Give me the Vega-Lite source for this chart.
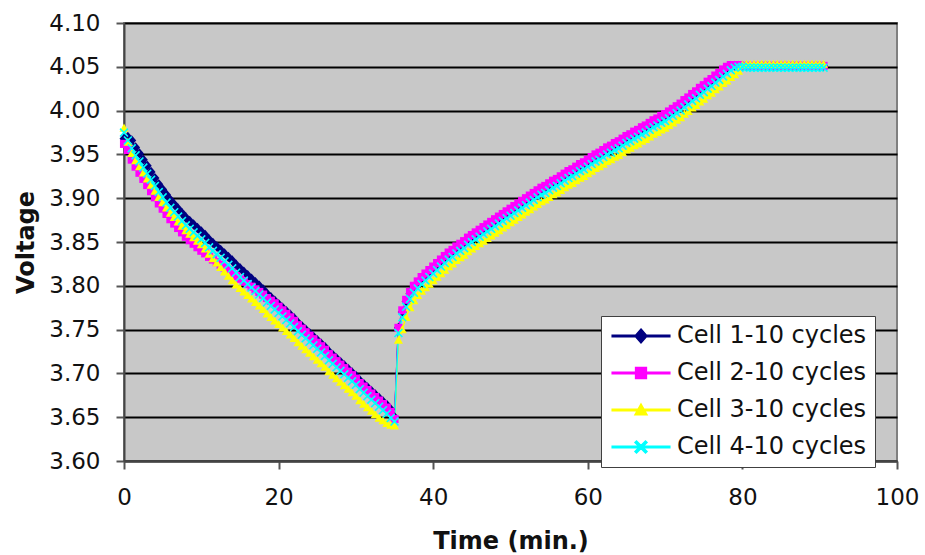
{
  "$schema": "https://vega.github.io/schema/vega-lite/v6.json",
  "width": 773,
  "height": 438,
  "autosize": "none",
  "padding": {"left": 124, "top": 23, "right": 28, "bottom": 94},
  "background": "white",
  "title": {"text": "Cycle 10", "fontSize": 36, "font": "DejaVu Sans", "fontWeight": "bold", "color": "black", "offset": 0, "baseline": "bottom", "anchor": "middle", "dx": -38},
  "config": {
    "view": {"fill": "#c8c8c8", "stroke": "#808080", "strokeWidth": 2},
    "axis": {"labelFont": "DejaVu Sans", "titleFont": "DejaVu Sans", "labelColor": "#111111", "titleColor": "#111111"}
  },
  "data": {"values": [
    {"t":0,"c1":3.968,"c2":3.962,"c3":3.980,"c4":3.975},
    {"t":0.5,"c1":3.970,"c2":3.955,"c3":3.964,"c4":3.966},
    {"t":1,"c1":3.966,"c2":3.944,"c3":3.951,"c4":3.957},
    {"t":1.5,"c1":3.958,"c2":3.936,"c3":3.943,"c4":3.949},
    {"t":2,"c1":3.951,"c2":3.929,"c3":3.936,"c4":3.942},
    {"t":2.5,"c1":3.944,"c2":3.922,"c3":3.929,"c4":3.935},
    {"t":3,"c1":3.937,"c2":3.915,"c3":3.922,"c4":3.928},
    {"t":3.5,"c1":3.930,"c2":3.908,"c3":3.915,"c4":3.921},
    {"t":4,"c1":3.923,"c2":3.901,"c3":3.908,"c4":3.914},
    {"t":4.5,"c1":3.916,"c2":3.894,"c3":3.901,"c4":3.907},
    {"t":5,"c1":3.910,"c2":3.888,"c3":3.895,"c4":3.901},
    {"t":5.5,"c1":3.904,"c2":3.882,"c3":3.889,"c4":3.895},
    {"t":6,"c1":3.898,"c2":3.876,"c3":3.883,"c4":3.889},
    {"t":6.5,"c1":3.893,"c2":3.871,"c3":3.878,"c4":3.884},
    {"t":7,"c1":3.888,"c2":3.866,"c3":3.873,"c4":3.879},
    {"t":7.5,"c1":3.883,"c2":3.861,"c3":3.868,"c4":3.874},
    {"t":8,"c1":3.878,"c2":3.856,"c3":3.863,"c4":3.869},
    {"t":8.5,"c1":3.874,"c2":3.852,"c3":3.859,"c4":3.865},
    {"t":9,"c1":3.870,"c2":3.848,"c3":3.855,"c4":3.861},
    {"t":9.5,"c1":3.866,"c2":3.844,"c3":3.851,"c4":3.857},
    {"t":10,"c1":3.862,"c2":3.840,"c3":3.847,"c4":3.853},
    {"t":10.5,"c1":3.858,"c2":3.837,"c3":3.842,"c4":3.849},
    {"t":11,"c1":3.853,"c2":3.833,"c3":3.836,"c4":3.844},
    {"t":11.5,"c1":3.849,"c2":3.830,"c3":3.831,"c4":3.840},
    {"t":12,"c1":3.845,"c2":3.827,"c3":3.826,"c4":3.836},
    {"t":12.5,"c1":3.841,"c2":3.824,"c3":3.821,"c4":3.832},
    {"t":13,"c1":3.837,"c2":3.821,"c3":3.816,"c4":3.828},
    {"t":13.5,"c1":3.833,"c2":3.818,"c3":3.811,"c4":3.824},
    {"t":14,"c1":3.829,"c2":3.815,"c3":3.806,"c4":3.820},
    {"t":14.5,"c1":3.824,"c2":3.811,"c3":3.801,"c4":3.815},
    {"t":15,"c1":3.820,"c2":3.808,"c3":3.797,"c4":3.810},
    {"t":15.5,"c1":3.816,"c2":3.805,"c3":3.793,"c4":3.806},
    {"t":16,"c1":3.812,"c2":3.802,"c3":3.789,"c4":3.802},
    {"t":16.5,"c1":3.808,"c2":3.799,"c3":3.785,"c4":3.798},
    {"t":17,"c1":3.804,"c2":3.796,"c3":3.781,"c4":3.794},
    {"t":17.5,"c1":3.800,"c2":3.793,"c3":3.777,"c4":3.790},
    {"t":18,"c1":3.796,"c2":3.790,"c3":3.773,"c4":3.786},
    {"t":18.5,"c1":3.791,"c2":3.786,"c3":3.768,"c4":3.781},
    {"t":19,"c1":3.787,"c2":3.783,"c3":3.764,"c4":3.777},
    {"t":19.5,"c1":3.783,"c2":3.780,"c3":3.760,"c4":3.773},
    {"t":20,"c1":3.779,"c2":3.776,"c3":3.756,"c4":3.769},
    {"t":20.5,"c1":3.775,"c2":3.772,"c3":3.752,"c4":3.765},
    {"t":21,"c1":3.771,"c2":3.768,"c3":3.748,"c4":3.761},
    {"t":21.5,"c1":3.767,"c2":3.764,"c3":3.744,"c4":3.757},
    {"t":22,"c1":3.763,"c2":3.760,"c3":3.740,"c4":3.753},
    {"t":22.5,"c1":3.758,"c2":3.755,"c3":3.735,"c4":3.748},
    {"t":23,"c1":3.754,"c2":3.751,"c3":3.731,"c4":3.744},
    {"t":23.5,"c1":3.750,"c2":3.747,"c3":3.727,"c4":3.740},
    {"t":24,"c1":3.746,"c2":3.743,"c3":3.723,"c4":3.736},
    {"t":24.5,"c1":3.742,"c2":3.739,"c3":3.719,"c4":3.732},
    {"t":25,"c1":3.738,"c2":3.735,"c3":3.715,"c4":3.728},
    {"t":25.5,"c1":3.734,"c2":3.731,"c3":3.711,"c4":3.724},
    {"t":26,"c1":3.730,"c2":3.727,"c3":3.707,"c4":3.720},
    {"t":26.5,"c1":3.725,"c2":3.722,"c3":3.702,"c4":3.715},
    {"t":27,"c1":3.721,"c2":3.718,"c3":3.698,"c4":3.711},
    {"t":27.5,"c1":3.717,"c2":3.714,"c3":3.694,"c4":3.707},
    {"t":28,"c1":3.713,"c2":3.710,"c3":3.690,"c4":3.703},
    {"t":28.5,"c1":3.709,"c2":3.706,"c3":3.686,"c4":3.699},
    {"t":29,"c1":3.705,"c2":3.702,"c3":3.682,"c4":3.695},
    {"t":29.5,"c1":3.701,"c2":3.698,"c3":3.678,"c4":3.691},
    {"t":30,"c1":3.697,"c2":3.694,"c3":3.674,"c4":3.687},
    {"t":30.5,"c1":3.692,"c2":3.689,"c3":3.669,"c4":3.682},
    {"t":31,"c1":3.688,"c2":3.685,"c3":3.665,"c4":3.678},
    {"t":31.5,"c1":3.684,"c2":3.681,"c3":3.661,"c4":3.674},
    {"t":32,"c1":3.680,"c2":3.677,"c3":3.657,"c4":3.670},
    {"t":32.5,"c1":3.676,"c2":3.673,"c3":3.653,"c4":3.666},
    {"t":33,"c1":3.672,"c2":3.669,"c3":3.649,"c4":3.662},
    {"t":33.5,"c1":3.668,"c2":3.665,"c3":3.646,"c4":3.658},
    {"t":34,"c1":3.664,"c2":3.661,"c3":3.643,"c4":3.654},
    {"t":34.5,"c1":3.659,"c2":3.656,"c3":3.641,"c4":3.649},
    {"t":35,"c1":3.650,"c2":3.648,"c3":3.640,"c4":3.645},
    {"t":35.5,"c1":3.752,"c2":3.752,"c3":3.738,"c4":3.746},
    {"t":36,"c1":3.770,"c2":3.772,"c3":3.750,"c4":3.764},
    {"t":36.5,"c1":3.782,"c2":3.784,"c3":3.764,"c4":3.776},
    {"t":37,"c1":3.791,"c2":3.793,"c3":3.775,"c4":3.785},
    {"t":37.5,"c1":3.798,"c2":3.800,"c3":3.783,"c4":3.792},
    {"t":38,"c1":3.803,"c2":3.805,"c3":3.789,"c4":3.797},
    {"t":38.5,"c1":3.808,"c2":3.810,"c3":3.794,"c4":3.802},
    {"t":39,"c1":3.812,"c2":3.814,"c3":3.798,"c4":3.806},
    {"t":39.5,"c1":3.816,"c2":3.818,"c3":3.802,"c4":3.810},
    {"t":40,"c1":3.820,"c2":3.822,"c3":3.806,"c4":3.814},
    {"t":40.5,"c1":3.824,"c2":3.826,"c3":3.810,"c4":3.818},
    {"t":41,"c1":3.828,"c2":3.830,"c3":3.814,"c4":3.822},
    {"t":41.5,"c1":3.832,"c2":3.834,"c3":3.818,"c4":3.826},
    {"t":42,"c1":3.836,"c2":3.838,"c3":3.822,"c4":3.830},
    {"t":42.5,"c1":3.839,"c2":3.841,"c3":3.825,"c4":3.833},
    {"t":43,"c1":3.843,"c2":3.845,"c3":3.829,"c4":3.837},
    {"t":43.5,"c1":3.846,"c2":3.848,"c3":3.832,"c4":3.840},
    {"t":44,"c1":3.849,"c2":3.851,"c3":3.835,"c4":3.843},
    {"t":44.5,"c1":3.853,"c2":3.855,"c3":3.839,"c4":3.847},
    {"t":45,"c1":3.856,"c2":3.858,"c3":3.842,"c4":3.850},
    {"t":45.5,"c1":3.859,"c2":3.861,"c3":3.845,"c4":3.853},
    {"t":46,"c1":3.862,"c2":3.864,"c3":3.848,"c4":3.856},
    {"t":46.5,"c1":3.865,"c2":3.867,"c3":3.851,"c4":3.859},
    {"t":47,"c1":3.868,"c2":3.870,"c3":3.854,"c4":3.862},
    {"t":47.5,"c1":3.871,"c2":3.873,"c3":3.857,"c4":3.865},
    {"t":48,"c1":3.874,"c2":3.876,"c3":3.860,"c4":3.868},
    {"t":48.5,"c1":3.877,"c2":3.879,"c3":3.863,"c4":3.871},
    {"t":49,"c1":3.880,"c2":3.882,"c3":3.866,"c4":3.874},
    {"t":49.5,"c1":3.883,"c2":3.885,"c3":3.869,"c4":3.877},
    {"t":50,"c1":3.886,"c2":3.888,"c3":3.872,"c4":3.880},
    {"t":50.5,"c1":3.889,"c2":3.891,"c3":3.875,"c4":3.883},
    {"t":51,"c1":3.892,"c2":3.894,"c3":3.878,"c4":3.886},
    {"t":51.5,"c1":3.895,"c2":3.897,"c3":3.881,"c4":3.889},
    {"t":52,"c1":3.898,"c2":3.900,"c3":3.884,"c4":3.892},
    {"t":52.5,"c1":3.901,"c2":3.903,"c3":3.887,"c4":3.895},
    {"t":53,"c1":3.904,"c2":3.906,"c3":3.890,"c4":3.898},
    {"t":53.5,"c1":3.907,"c2":3.909,"c3":3.893,"c4":3.901},
    {"t":54,"c1":3.910,"c2":3.912,"c3":3.896,"c4":3.904},
    {"t":54.5,"c1":3.912,"c2":3.914,"c3":3.898,"c4":3.906},
    {"t":55,"c1":3.915,"c2":3.917,"c3":3.901,"c4":3.909},
    {"t":55.5,"c1":3.918,"c2":3.920,"c3":3.904,"c4":3.912},
    {"t":56,"c1":3.920,"c2":3.922,"c3":3.906,"c4":3.914},
    {"t":56.5,"c1":3.923,"c2":3.925,"c3":3.909,"c4":3.917},
    {"t":57,"c1":3.926,"c2":3.928,"c3":3.912,"c4":3.920},
    {"t":57.5,"c1":3.929,"c2":3.931,"c3":3.915,"c4":3.923},
    {"t":58,"c1":3.931,"c2":3.933,"c3":3.917,"c4":3.925},
    {"t":58.5,"c1":3.934,"c2":3.936,"c3":3.920,"c4":3.928},
    {"t":59,"c1":3.937,"c2":3.939,"c3":3.923,"c4":3.931},
    {"t":59.5,"c1":3.939,"c2":3.941,"c3":3.925,"c4":3.933},
    {"t":60,"c1":3.942,"c2":3.944,"c3":3.928,"c4":3.936},
    {"t":60.5,"c1":3.945,"c2":3.947,"c3":3.931,"c4":3.939},
    {"t":61,"c1":3.948,"c2":3.950,"c3":3.934,"c4":3.942},
    {"t":61.5,"c1":3.950,"c2":3.952,"c3":3.936,"c4":3.944},
    {"t":62,"c1":3.953,"c2":3.955,"c3":3.939,"c4":3.947},
    {"t":62.5,"c1":3.956,"c2":3.958,"c3":3.942,"c4":3.950},
    {"t":63,"c1":3.958,"c2":3.960,"c3":3.944,"c4":3.952},
    {"t":63.5,"c1":3.961,"c2":3.963,"c3":3.947,"c4":3.955},
    {"t":64,"c1":3.963,"c2":3.965,"c3":3.949,"c4":3.957},
    {"t":64.5,"c1":3.966,"c2":3.968,"c3":3.952,"c4":3.960},
    {"t":65,"c1":3.969,"c2":3.971,"c3":3.955,"c4":3.963},
    {"t":65.5,"c1":3.971,"c2":3.973,"c3":3.957,"c4":3.965},
    {"t":66,"c1":3.974,"c2":3.976,"c3":3.960,"c4":3.968},
    {"t":66.5,"c1":3.976,"c2":3.978,"c3":3.962,"c4":3.970},
    {"t":67,"c1":3.979,"c2":3.981,"c3":3.965,"c4":3.973},
    {"t":67.5,"c1":3.981,"c2":3.983,"c3":3.967,"c4":3.975},
    {"t":68,"c1":3.984,"c2":3.986,"c3":3.970,"c4":3.978},
    {"t":68.5,"c1":3.987,"c2":3.989,"c3":3.973,"c4":3.981},
    {"t":69,"c1":3.989,"c2":3.991,"c3":3.975,"c4":3.983},
    {"t":69.5,"c1":3.992,"c2":3.994,"c3":3.978,"c4":3.986},
    {"t":70,"c1":3.994,"c2":3.996,"c3":3.980,"c4":3.988},
    {"t":70.5,"c1":3.997,"c2":3.999,"c3":3.983,"c4":3.991},
    {"t":71,"c1":4.000,"c2":4.002,"c3":3.986,"c4":3.994},
    {"t":71.5,"c1":4.003,"c2":4.005,"c3":3.989,"c4":3.997},
    {"t":72,"c1":4.006,"c2":4.008,"c3":3.992,"c4":4.000},
    {"t":72.5,"c1":4.010,"c2":4.012,"c3":3.996,"c4":4.004},
    {"t":73,"c1":4.013,"c2":4.015,"c3":3.999,"c4":4.007},
    {"t":73.5,"c1":4.017,"c2":4.019,"c3":4.003,"c4":4.011},
    {"t":74,"c1":4.020,"c2":4.022,"c3":4.006,"c4":4.014},
    {"t":74.5,"c1":4.024,"c2":4.026,"c3":4.010,"c4":4.018},
    {"t":75,"c1":4.027,"c2":4.029,"c3":4.013,"c4":4.021},
    {"t":75.5,"c1":4.031,"c2":4.033,"c3":4.017,"c4":4.025},
    {"t":76,"c1":4.034,"c2":4.036,"c3":4.020,"c4":4.028},
    {"t":76.5,"c1":4.038,"c2":4.040,"c3":4.024,"c4":4.032},
    {"t":77,"c1":4.041,"c2":4.043,"c3":4.027,"c4":4.035},
    {"t":77.5,"c1":4.045,"c2":4.047,"c3":4.031,"c4":4.039},
    {"t":78,"c1":4.048,"c2":4.050,"c3":4.034,"c4":4.042},
    {"t":78.5,"c1":4.051,"c2":4.052,"c3":4.038,"c4":4.046},
    {"t":79,"c1":4.051,"c2":4.052,"c3":4.041,"c4":4.049},
    {"t":79.5,"c1":4.051,"c2":4.052,"c3":4.045,"c4":4.050},
    {"t":80,"c1":4.051,"c2":4.051,"c3":4.052,"c4":4.050},
    {"t":80.5,"c1":4.051,"c2":4.051,"c3":4.053,"c4":4.049},
    {"t":81,"c1":4.051,"c2":4.051,"c3":4.053,"c4":4.049},
    {"t":81.5,"c1":4.051,"c2":4.051,"c3":4.053,"c4":4.049},
    {"t":82,"c1":4.051,"c2":4.051,"c3":4.053,"c4":4.049},
    {"t":82.5,"c1":4.051,"c2":4.051,"c3":4.053,"c4":4.049},
    {"t":83,"c1":4.051,"c2":4.051,"c3":4.053,"c4":4.049},
    {"t":83.5,"c1":4.051,"c2":4.051,"c3":4.053,"c4":4.049},
    {"t":84,"c1":4.051,"c2":4.051,"c3":4.053,"c4":4.049},
    {"t":84.5,"c1":4.051,"c2":4.051,"c3":4.053,"c4":4.049},
    {"t":85,"c1":4.051,"c2":4.051,"c3":4.053,"c4":4.049},
    {"t":85.5,"c1":4.051,"c2":4.051,"c3":4.053,"c4":4.049},
    {"t":86,"c1":4.051,"c2":4.051,"c3":4.053,"c4":4.049},
    {"t":86.5,"c1":4.051,"c2":4.051,"c3":4.053,"c4":4.049},
    {"t":87,"c1":4.051,"c2":4.051,"c3":4.053,"c4":4.049},
    {"t":87.5,"c1":4.051,"c2":4.051,"c3":4.053,"c4":4.049},
    {"t":88,"c1":4.051,"c2":4.051,"c3":4.053,"c4":4.049},
    {"t":88.5,"c1":4.051,"c2":4.051,"c3":4.053,"c4":4.049},
    {"t":89,"c1":4.051,"c2":4.051,"c3":4.053,"c4":4.049},
    {"t":89.5,"c1":4.051,"c2":4.051,"c3":4.053,"c4":4.049},
    {"t":90,"c1":4.051,"c2":4.051,"c3":4.053,"c4":4.049},
    {"t":90.5,"c1":4.051,"c2":4.051,"c3":4.053,"c4":4.049}
  ]},
  "transform": [{"fold": ["c1", "c2", "c3", "c4"], "as": ["s", "v"]}],
  "encoding": {
    "x": {
      "field": "t", "type": "quantitative",
      "scale": {"domain": [0, 100], "nice": false, "zero": false},
      "axis": {
        "values": [0, 20, 40, 60, 80, 100], "grid": false,
        "labelFontSize": 23, "labelPadding": 17, "labelFlush": false,
        "tickSize": 8, "tickColor": "#555555", "tickWidth": 2,
        "domainColor": "#444444", "domainWidth": 2,
        "title": "Time (min.)", "titleFontSize": 24, "titleFontWeight": "bold", "titlePadding": 20
      }
    },
    "y": {
      "field": "v", "type": "quantitative",
      "scale": {"domain": [3.6, 4.1], "nice": false, "zero": false},
      "axis": {
        "values": [3.6, 3.65, 3.7, 3.75, 3.8, 3.85, 3.9, 3.95, 4.0, 4.05, 4.1],
        "format": ".2f", "grid": true, "gridColor": "black", "gridWidth": 2, "gridOpacity": 1,
        "labelFontSize": 23, "labelPadding": 16,
        "tickSize": 8, "tickColor": "#555555", "tickWidth": 2,
        "domainColor": "#444444", "domainWidth": 2,
        "title": "Voltage", "titleFontSize": 24, "titleFontWeight": "bold", "titlePadding": 10
      }
    },
    "color": {
      "field": "s", "type": "nominal",
      "scale": {"domain": ["c1", "c2", "c3", "c4"], "range": ["#000080", "#ff00ff", "#ffff00", "#00ffff"]},
      "legend": {
        "orient": "none", "legendX": 477, "legendY": 293, "direction": "vertical",
        "title": null, "fillColor": "white", "strokeColor": "#404040", "padding": 8,
        "labelFontSize": 24, "labelFont": "DejaVu Sans", "labelColor": "#111111", "labelLimit": 400,
        "symbolSize": 144, "symbolOffset": 20, "labelOffset": 24, "rowPadding": 13,
        "symbolType": "M-4.8,-0.14H4.8V0.14H-4.8ZM0,-1L1,0L0,1L-1,0Z",
        "labelExpr": "datum.label == 'c1' ? 'Cell 1-10 cycles' : datum.label == 'c2' ? 'Cell 2-10 cycles' : datum.label == 'c3' ? 'Cell 3-10 cycles' : 'Cell 4-10 cycles'",
        "encode": {"symbols": {"update": {
          "shape": {"signal": "datum.value == 'c1' ? 'M-4.8,-0.14H4.8V0.14H-4.8ZM0,-1.15L1,0L0,1.15L-1,0Z' : datum.value == 'c2' ? 'M-4.8,-0.14H4.8V0.14H-4.8ZM-0.9,-0.9H0.9V0.9H-0.9Z' : datum.value == 'c3' ? 'M-4.8,-0.14H4.8V0.14H-4.8ZM0,-1L1,0.8H-1Z' : 'M-4.8,-0.14H4.8V0.14H-4.8ZM-1,-0.75L-0.75,-1L0,-0.25L0.75,-1L1,-0.75L0.25,0L1,0.75L0.75,1L0,0.25L-0.75,1L-1,0.75L-0.25,0Z'"},
          "fill": {"signal": "datum.value == 'c1' ? '#000080' : datum.value == 'c2' ? '#ff00ff' : datum.value == 'c3' ? '#ffff00' : '#00ffff'"},
          "opacity": {"value": 1}
        }}}
      }
    }
  },
  "layer": [
    {"mark": {"type": "line", "strokeWidth": 1.5}},
    {"transform": [{"filter": "datum.s == 'c1'"}], "mark": {"type": "point", "filled": true, "opacity": 1, "size": 81, "shape": "M0,-1.15L1,0L0,1.15L-1,0Z"}},
    {"transform": [{"filter": "datum.s == 'c2'"}], "mark": {"type": "point", "filled": true, "opacity": 1, "size": 81, "shape": "M-0.9,-0.9H0.9V0.9H-0.9Z"}},
    {"transform": [{"filter": "datum.s == 'c3'"}], "mark": {"type": "point", "filled": true, "opacity": 1, "size": 81, "shape": "M0,-1L1,0.8H-1Z"}},
    {"transform": [{"filter": "datum.s == 'c4'"}], "mark": {"type": "point", "filled": true, "opacity": 1, "size": 81, "shape": "M-1,-0.75L-0.75,-1L0,-0.25L0.75,-1L1,-0.75L0.25,0L1,0.75L0.75,1L0,0.25L-0.75,1L-1,0.75L-0.25,0Z"}}
  ]
}
